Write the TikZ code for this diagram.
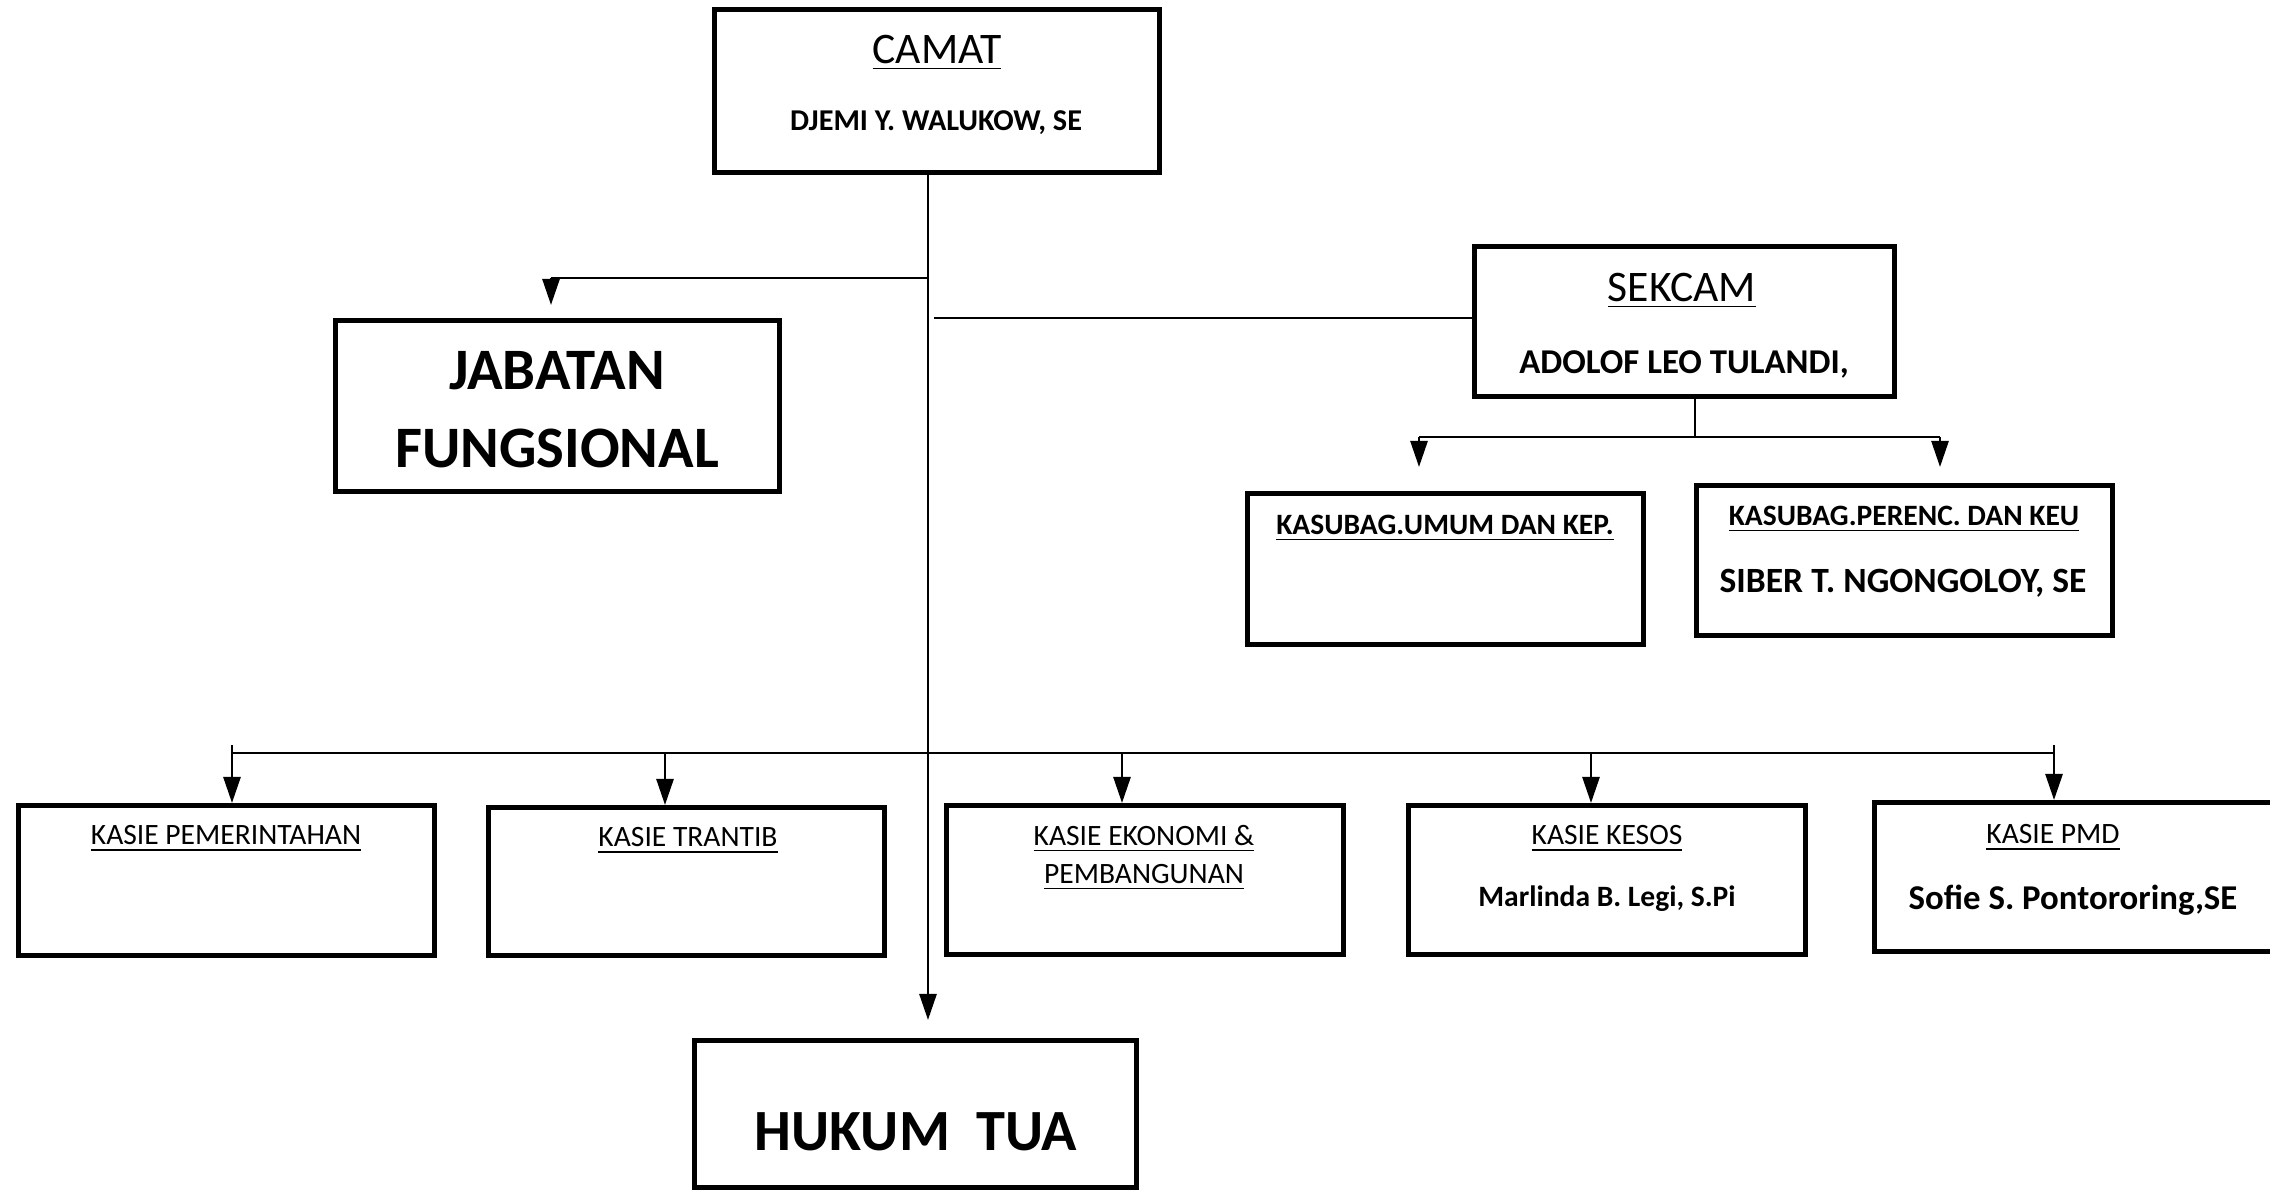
\documentclass[tikz,border=0pt]{standalone}
\usepackage{fontspec}
\setmainfont{Carlito}
\usetikzlibrary{arrows.meta,positioning,calc}

\begin{document}
\begin{tikzpicture}[
  x=0.01cm, y=-0.01cm,
  unit/.style={draw, rectangle, line width=1.4pt, inner sep=0pt},
  head/.style={font=\fontsize{12.4}{15}\selectfont, inner sep=0pt},
  who/.style={font=\fontsize{8.6}{10}\selectfont\bfseries, inner sep=0pt},
  sub/.style={font=\fontsize{8.4}{10.8}\selectfont, inner sep=0pt, align=center},
  subb/.style={font=\fontsize{8.4}{10.8}\selectfont\bfseries, inner sep=0pt},
  big/.style={font=\fontsize{16.7}{22.2}\selectfont\bfseries, inner sep=0pt, align=center},
  line/.style={-, line width=0.75pt},
  arr/.style={-{Triangle[length=2.6mm, width=1.7mm]}, line width=0.75pt}
]
  \useasboundingbox (0,0) rectangle (2270,1191);

  % boxes
  \node[unit, minimum width=4.45cm, minimum height=1.63cm] (camat)   at (937,91)      {};
  \node[unit, minimum width=4.44cm, minimum height=1.71cm] (jabatan) at (557.5,406)   {};
  \node[unit, minimum width=4.20cm, minimum height=1.50cm] (sekcam)  at (1684.5,321.5) {};
  \node[unit, minimum width=3.96cm, minimum height=1.51cm] (umum)    at (1445.5,569)  {};
  \node[unit, minimum width=4.16cm, minimum height=1.50cm] (perenc)  at (1904.5,560.5) {};
  \node[unit, minimum width=4.16cm, minimum height=1.50cm] (pem)     at (226.5,880.5) {};
  \node[unit, minimum width=3.96cm, minimum height=1.48cm] (trantib) at (686.5,881.5) {};
  \node[unit, minimum width=3.97cm, minimum height=1.49cm] (ekbang)  at (1145,880)    {};
  \node[unit, minimum width=3.97cm, minimum height=1.49cm] (kesos)   at (1607,880)    {};
  \node[unit, minimum width=4.01cm, minimum height=1.49cm] (pmd)     at (2075,877)    {};
  \node[unit, minimum width=4.42cm, minimum height=1.47cm] (hukum)   at (915.5,1114)  {};

  % texts
  \node[head] (camat-t)  at (937,53)   {\underline{CAMAT}};
  \node[who]  (camat-n)  at (936,123)  {DJEMI Y. WALUKOW, SE};
  \node[big]  (jabatan-t) at (557,410) {JABATAN\\FUNGSIONAL};
  \node[head] (sekcam-t) at (1682,291) {\underline{SEKCAM}};
  \node[who, font=\fontsize{9.9}{11}\selectfont\bfseries] (sekcam-n) at (1684,364) {ADOLOF LEO TULANDI,};
  \node[subb] (umum-t)   at (1445,528) {\underline{KASUBAG.UMUM DAN KEP.}};
  \node[subb] (perenc-t) at (1904,519) {\underline{KASUBAG.PERENC. DAN KEU}};
  \node[who, font=\fontsize{10.1}{12}\selectfont\bfseries] (perenc-n) at (1903,583) {SIBER T. NGONGOLOY, SE};
  \node[sub]  (pem-t)    at (226,839)  {\underline{KASIE PEMERINTAHAN}};
  \node[sub]  (trantib-t) at (688,841) {\underline{KASIE TRANTIB}};
  \node[sub]  (ekbang-t) at (1144,858) {\underline{KASIE EKONOMI \&}\\\underline{PEMBANGUNAN}};
  \node[sub]  (kesos-t)  at (1607,839) {\underline{KASIE KESOS}};
  \node[subb] (kesos-n)  at (1607,899) {Marlinda B. Legi, S.Pi};
  \node[sub]  (pmd-t)    at (2053,838) {\underline{KASIE PMD}};
  \node[who, font=\fontsize{9.9}{11}\selectfont\bfseries] (pmd-n) at (2073,900) {Sofie S. Pontororing,SE};
  \node[big, font=\fontsize{16.6}{20}\selectfont\bfseries] (hukum-t) at (916,1132) {HUKUM\ \ TUA};

  % camat trunk
  \coordinate (fork) at (928,278);
  \coordinate (jf)   at (551,278);
  \coordinate (bus)  at (928,753);
  \draw[arr, shorten >=0.18cm] (camat.south -| bus) -- (bus |- hukum.north);
  \draw[line] (fork) -- (jf);
  \draw[arr, shorten >=0.13cm] (jf) -- (jf |- jabatan.north);

  % sekcam
  \coordinate (sk) at (934,318);
  \coordinate (ks) at (1695,437);
  \coordinate (ka) at (1419,437);
  \coordinate (kb) at (1940,437);
  \draw[line] (sekcam.west |- sk) -- (sk);
  \draw[line] (sekcam.south -| ks) -- (ks);
  \draw[line] (ka) -- (kb);
  \draw[arr, shorten >=0.24cm] (ka) -- (ka |- umum.north);
  \draw[arr, shorten >=0.16cm] (kb) -- (kb |- perenc.north);

  % kasie row
  \coordinate (b1) at (232,753);
  \coordinate (b2) at (665,753);
  \coordinate (b3) at (1122,753);
  \coordinate (b4) at (1591,753);
  \coordinate (b5) at (2054,753);
  \draw[line] (b1) -- (b5);
  \draw[arr] ([yshift=0.08cm]b1) -- (b1 |- pem.north);
  \draw[arr] (b2) -- (b2 |- trantib.north);
  \draw[arr] (b3) -- (b3 |- ekbang.north);
  \draw[arr] (b4) -- (b4 |- kesos.north);
  \draw[arr] ([yshift=0.08cm]b5) -- (b5 |- pmd.north);

\end{tikzpicture}
\end{document}
